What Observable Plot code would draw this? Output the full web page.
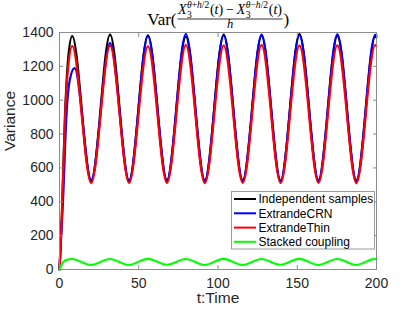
<!DOCTYPE html>
<html><head><meta charset="utf-8">
<script src="https://cdn.jsdelivr.net/npm/d3@7"></script>
<script src="https://cdn.jsdelivr.net/npm/@observablehq/plot@0.6"></script>
<style>html,body{margin:0;padding:0;background:#fff;} #chart{width:415px;height:312px;}</style>
</head><body><div id="chart"></div>
<script>
// ---- data ----
const xTicks = [0, 50, 100, 150, 200];
const yTicks = [0, 200, 400, 600, 800, 1000, 1200, 1400];
const seriesNames = ["Independent samples", "ExtrandeCRN", "ExtrandeThin", "Stacked coupling"];
const seriesColors = ["#000000", "#0000ff", "#ff0000", "#00ff00"];

const tBlack = [0, 1.5, 3.5, 5.5, 8.0, 20.0, 31.9, 43.9, 55.8, 67.8, 79.7, 91.7, 103.6, 115.6, 127.5, 139.5, 151.4, 163.4, 175.3, 187.3, 199.2, 200];
const vBlack = [0, 330, 920, 1250, 1378, 522, 1387, 520, 1383, 523, 1376, 521, 1388, 522, 1380, 520, 1390, 522, 1378, 521, 1375, 1371];

const tBlue = [0, 2.2, 4.4, 6.5, 9.5, 20.0, 31.9, 43.9, 55.8, 67.8, 79.7, 91.7, 103.6, 115.6, 127.5, 139.5, 151.4, 163.4, 175.3, 187.3, 199.2, 200];
const vBlue = [0, 400, 910, 1120, 1189, 530, 1337, 528, 1378, 530, 1391, 528, 1382, 529, 1388, 527, 1383, 530, 1389, 528, 1386, 1382];

const tRed = [0, 1.5, 3.5, 5.5, 8.0, 20.0, 31.9, 43.9, 55.8, 67.8, 79.7, 91.7, 103.6, 115.6, 127.5, 139.5, 151.4, 163.4, 175.3, 187.3, 199.2, 200];
const vRed = [0, 320, 900, 1200, 1320, 510, 1322, 512, 1318, 511, 1325, 510, 1322, 512, 1325, 511, 1322, 512, 1324, 510, 1325, 1321];

const tGreen = [0, 1, 2.5, 4.5, 7.8, 19.9, 31.8, 43.8, 55.7, 67.7, 79.6, 91.6, 103.5, 115.5, 127.4, 139.4, 151.3, 163.3, 175.2, 187.2, 199.1, 200];
const vGreen = [0, 22, 45, 57, 62, 27, 62, 27, 63, 28, 62, 27, 63, 27, 62, 28, 63, 27, 62, 27, 63, 62];

// ---- build table ----
const tSets = [tBlack, tBlue, tRed, tGreen];
const vSets = [vBlack, vBlue, vRed, vGreen];
const rows = seriesNames.flatMap((name, i) => tSets[i].map((t, j) => ({name, t, v: vSets[i][j]})));

const gray = "#8c8c8c";
const ink = "#262626";

const svg = Plot.plot({
  width: 415, height: 312,
  marginLeft: 59, marginRight: 39, marginTop: 32, marginBottom: 43,
  style: {fontFamily: "'Liberation Sans', Arial, sans-serif", fontSize: "14px", background: "#fff", color: ink},
  x: {domain: [0, 200], label: null},
  y: {domain: [0, 1400], label: null},
  color: {domain: seriesNames, range: seriesColors},
  marks: [
    Plot.line(rows, {x: "t", y: "v", z: "name", stroke: "name", strokeWidth: 2.2, curve: "monotone-x"}),
    Plot.frame({stroke: gray}),
    Plot.axisX(xTicks, {anchor: "bottom", tickSize: -4, tickPadding: 13, tickFormat: d => String(d), stroke: gray, fill: ink, fontSize: 14, label: null}),
    Plot.axisX(xTicks, {anchor: "top", tickSize: -4, tickFormat: () => "", stroke: gray, label: null}),
    Plot.axisY(yTicks, {anchor: "left", tickSize: -4, tickPadding: 10, tickFormat: d => String(d), stroke: gray, fill: ink, fontSize: 14, label: null}),
    Plot.axisY(yTicks, {anchor: "right", tickSize: -4, tickFormat: () => "", stroke: gray, label: null}),
    Plot.text(["t:Time"], {text: d => d, frameAnchor: "bottom", dy: 33, fontSize: 15.5, fill: ink}),
    Plot.text(["Variance"], {text: d => d, frameAnchor: "left", dx: -49, rotate: -90, fontSize: 15.5, fill: ink})
  ]
});
document.getElementById("chart").appendChild(svg);

// ---- legend ----
const root = d3.select(svg);
const lg = root.append("g").attr("font-family", "'Liberation Sans', Arial, sans-serif").attr("font-size", 12).attr("text-anchor", "start");
lg.append("rect").attr("x", 231.5).attr("y", 191.5).attr("width", 143).attr("height", 57.5)
  .attr("fill", "#fff").attr("stroke", "#999").attr("stroke-width", 1);
const rowY = [199, 213.3, 227.6, 241.8];
seriesNames.forEach((name, i) => {
  lg.append("line").attr("x1", 234).attr("x2", 256).attr("y1", rowY[i]).attr("y2", rowY[i])
    .attr("stroke", seriesColors[i]).attr("stroke-width", 2);
  lg.append("text").attr("x", 258.5).attr("y", rowY[i]).attr("dy", "0.35em").attr("fill", "#000")
    .attr("text-anchor", "start").text(name);
});

// ---- title: Var( (X_3^{θ+h/2}(t) − X_3^{θ−h/2}(t)) / h ) ----
const tg = root.append("g").attr("font-family", "'Liberation Serif', 'DejaVu Serif', serif").attr("fill", "#000").attr("text-anchor", "start");
const num = tg.append("g");
let cx = 0;
function put(segs, px, py, size) {
  const t = num.append("text").attr("x", px).attr("y", py).attr("font-size", size).attr("text-anchor", "start");
  segs.forEach(([s, it]) => t.append("tspan").attr("font-style", it ? "italic" : "normal").text(s));
  return t.node().getComputedTextLength();
}
function term(op) {
  cx += put([["X", true]], cx, 0, 12.5) + 0.3;
  const ws = put([["θ", true], [op, false], ["h", true], ["/2", false]], cx, -5.5, 8.5);
  const wb = put([["3", false]], cx, 3.2, 8.5);
  cx += Math.max(ws, wb) + 0.5;
  cx += put([["(", false], ["t", true], [")", false]], cx, 0, 12.5);
}
term("+");
cx += 2.5;
cx += put([["−", false]], cx, 0, 12.5);
cx += 2.5;
term("−");
const W = cx;
const targetW = 104, s = targetW / W, mid = 230;
num.attr("transform", `translate(${mid - targetW / 2},14) scale(${s})`);
tg.append("line").attr("x1", mid - targetW / 2 - 0.5).attr("x2", mid + targetW / 2 + 0.5)
  .attr("y1", 19).attr("y2", 19).attr("stroke", "#000").attr("stroke-width", 0.8);
tg.append("text").attr("x", mid).attr("y", 28).attr("font-size", 12.5).attr("font-style", "italic")
  .attr("text-anchor", "middle").text("h");
tg.append("text").attr("x", mid - targetW / 2 - 1.5).attr("y", 24.5).attr("font-size", 17)
  .attr("text-anchor", "end").text("Var(");
tg.append("text").attr("x", mid + targetW / 2 + 1.5).attr("y", 24.5).attr("font-size", 17)
  .attr("text-anchor", "start").text(")");
</script>
</body></html>
